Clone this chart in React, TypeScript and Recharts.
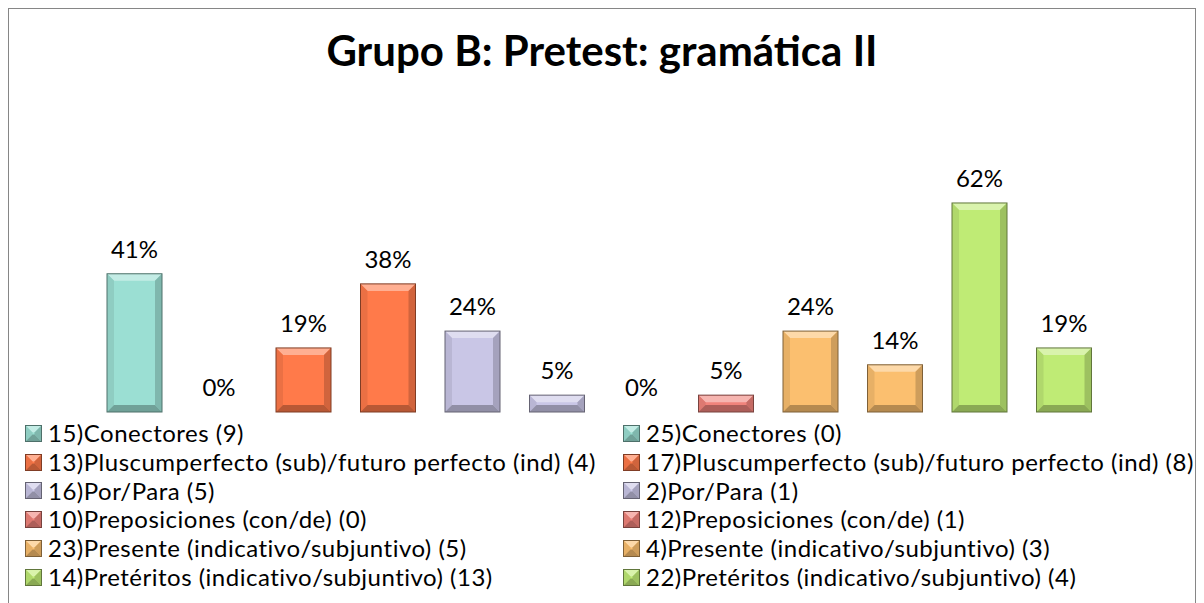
import React from 'react';
import { BarChart, Bar, XAxis, YAxis, LabelList } from 'recharts';

const seriesNames = [
  '15)Conectores (9)',
  '25)Conectores (0)',
  '13)Pluscumperfecto (sub)/futuro perfecto (ind) (4)',
  '17)Pluscumperfecto (sub)/futuro perfecto (ind) (8)',
  '16)Por/Para (5)',
  '2)Por/Para (1)',
  '10)Preposiciones (con/de) (0)',
  '12)Preposiciones (con/de) (1)',
  '23)Presente (indicativo/subjuntivo) (5)',
  '4)Presente (indicativo/subjuntivo) (3)',
  '14)Pretéritos (indicativo/subjuntivo) (13)',
  '22)Pretéritos (indicativo/subjuntivo) (4)',
];
const seriesValues = [0.41, 0, 0.19, 0.38, 0.24, 0.05, 0, 0.05, 0.24, 0.14, 0.62, 0.19];
const seriesColors = [
  '#9BDFD3', '#9BDFD3',
  '#FF7A4A', '#FF7A4A',
  '#C9C6E6', '#C9C6E6',
  '#F0837B', '#F0837B',
  '#FBBF6F', '#FBBF6F',
  '#BFEB75', '#BFEB75',
];
const category = ['Grupo B'];

const keys = seriesNames.map((_, i) => `s${i}`);
const data = category.map((c) => {
  const row: Record<string, string | number> = { name: c };
  keys.forEach((k, i) => (row[k] = seriesValues[i]));
  return row;
});

const FONT = 'Lato, "Open Sans", sans-serif';

// mix a hex colour towards white (amt > 0) or black (amt < 0)
const shade = (hex: string, amt: number) => {
  const n = parseInt(hex.slice(1), 16);
  const ch = [(n >> 16) & 255, (n >> 8) & 255, n & 255].map((v) =>
    Math.round(amt >= 0 ? v + (255 - v) * amt : v * (1 + amt))
  );
  return `rgb(${ch.join(',')})`;
};

const BevelBar = (props: any) => {
  const { x, y, width: w, height: h, fill } = props;
  if (!h || h <= 0) return <g />;
  const b = Math.min(7, h / 2, w / 2);
  return (
    <g>
      <rect x={x} y={y} width={w} height={h} fill={fill} />
      <polygon points={`${x},${y} ${x + w},${y} ${x + w - b},${y + b} ${x + b},${y + b}`} fill={shade(fill, 0.4)} />
      <polygon points={`${x},${y} ${x + b},${y + b} ${x + b},${y + h - b} ${x},${y + h}`} fill={shade(fill, -0.08)} />
      <polygon points={`${x + w},${y} ${x + w - b},${y + b} ${x + w - b},${y + h - b} ${x + w},${y + h}`} fill={shade(fill, -0.18)} />
      <polygon points={`${x},${y + h} ${x + b},${y + h - b} ${x + w - b},${y + h - b} ${x + w},${y + h}`} fill={shade(fill, -0.28)} />
      <rect x={x} y={y} width={w} height={h} fill="none" stroke={shade(fill, -0.5)} strokeWidth={1} />
    </g>
  );
};

const LegendMarker = ({ color }: { color: string }) => (
  <svg width={17} height={17} style={{ marginRight: 6, flex: 'none' }}>
    <BevelBar x={0.5} y={0.5} width={16} height={16} fill={color} />
  </svg>
);

const App: React.FC = () => {
  return (
    <div
      style={{
        position: 'relative',
        width: 1188,
        height: 600,
        border: '1px solid #868686',
        boxSizing: 'border-box',
        background: '#fff',
        fontFamily: FONT,
      }}
    >
      <div
        style={{
          position: 'absolute',
          top: 20,
          left: 0,
          width: '100%',
          textAlign: 'center',
          fontSize: 42,
          lineHeight: '42px',
          fontWeight: 700,
          color: '#000',
        }}
      >
        Grupo B: Pretest: gramática II
      </div>
      <BarChart
        width={1186}
        height={598}
        data={data}
        margin={{ top: 167, right: 15, left: 10, bottom: 195 }}
        barGap={29.5}
        barCategoryGap={0}
      >
        <XAxis dataKey="name" hide />
        <YAxis hide domain={[0, 0.7]} />
        {keys.map((k, i) => (
          <Bar
            key={k}
            dataKey={k}
            name={seriesNames[i]}
            fill={seriesColors[i]}
            barSize={55}
            shape={BevelBar}
            isAnimationActive={false}
          >
            <LabelList
              dataKey={k}
              position="top"
              offset={16}
              formatter={(v: any) => `${Math.round(Number(v) * 100)}%`}
              style={{ fontSize: 24, fill: '#000', fontFamily: FONT }}
            />
          </Bar>
        ))}
      </BarChart>
      <div
        style={{
          position: 'absolute',
          top: 410,
          left: 16,
          width: 1170,
          display: 'grid',
          gridTemplateColumns: '598px 572px',
          fontSize: 24,
          letterSpacing: 0.5,
          lineHeight: '28.8px',
          color: '#000',
        }}
      >
        {seriesNames.map((n, i) => (
          <div key={n} style={{ display: 'flex', alignItems: 'center', whiteSpace: 'nowrap', height: 28.8 }}>
            <LegendMarker color={seriesColors[i]} />
            <span>{n}</span>
          </div>
        ))}
      </div>
    </div>
  );
};

export default App;
